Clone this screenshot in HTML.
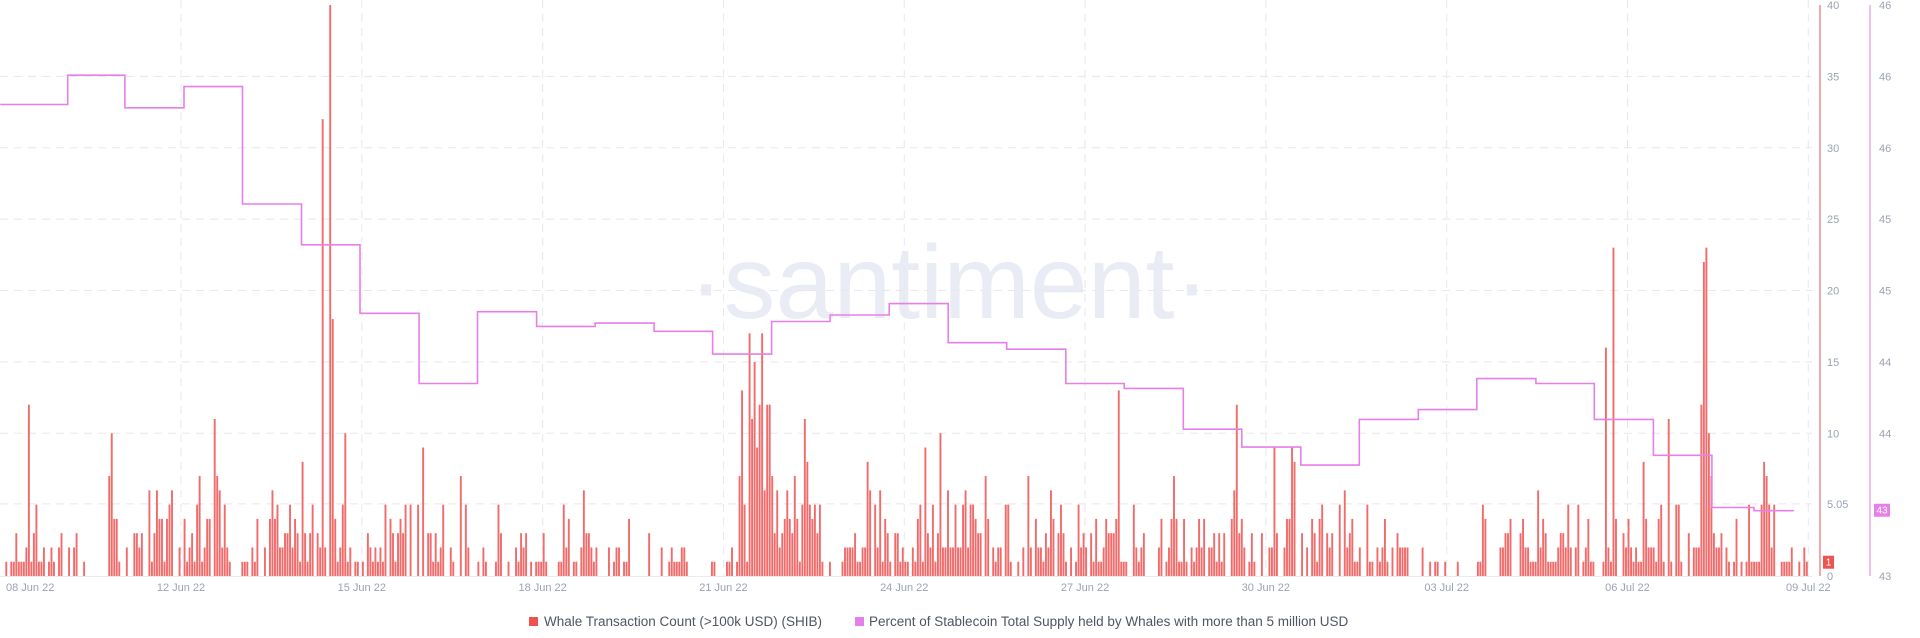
<!DOCTYPE html>
<html><head><meta charset="utf-8"><style>
html,body{margin:0;padding:0;background:#fff;width:1920px;height:638px;overflow:hidden;font-family:"Liberation Sans",sans-serif}
svg text{font-family:"Liberation Sans",sans-serif}
</style></head><body>
<svg id="chart" width="1920" height="638" viewBox="0 0 1920 638" xmlns="http://www.w3.org/2000/svg">
<text x="949" y="318" text-anchor="middle" font-size="104" fill="#e9ecf4" font-weight="300">·santiment·</text>
<g id="grid"></g>
<g id="bars"></g>
<path id="line" fill="none" stroke="#e77fe8" stroke-width="1.6"/>
<g id="axes"></g>
<g>
<rect x="529" y="617" width="9" height="9" fill="#ef5350"/>
<text x="544" y="626" font-size="13.5" fill="#4f5565">Whale Transaction Count (&gt;100k USD) (SHIB)</text>
<rect x="855" y="617" width="9" height="9" fill="#e77fe8"/>
<text x="869" y="626" font-size="13.5" fill="#4f5565">Percent of Stablecoin Total Supply held by Whales with more than 5 million USD</text>
</g>
</svg>
<script>
const whaleTx=[[0,1],[2,1],[3,1],[4,3],[5,1],[6,1],[7,1],[8,2],[9,12],[10,1],[11,3],[12,5],[13,1],[14,1],[15,2],[17,1],[18,2],[19,1],[21,2],[22,3],[25,2],[27,2],[28,3],[31,1],[41,7],[42,10],[43,4],[44,4],[45,1],[48,2],[51,3],[52,3],[53,2],[54,3],[57,6],[58,1],[59,3],[60,6],[61,4],[62,4],[63,1],[64,4],[65,5],[66,6],[69,2],[71,4],[72,1],[73,2],[74,3],[75,1],[76,5],[77,7],[78,1],[79,2],[80,4],[81,4],[83,11],[84,7],[85,6],[86,2],[87,5],[88,2],[89,1],
[94,1],[95,1],[96,1],[98,2],[99,1],[100,4],[103,2],[105,4],[106,6],[107,4],[108,5],[109,2],[110,2],[111,3],[112,3],[113,5],[114,2],[115,4],[116,3],[117,1],[118,8],[119,3],[120,1],[121,3],[122,5],[124,3],[125,2],[126,32],[127,2],[129,40],[130,18],[131,4],[132,1],[133,2],[134,5],[135,10],[136,1],[137,2],[139,1],[140,1],[142,1],[144,3],[145,2],[146,1],[147,2],[148,1],[149,2],[150,1],[151,5],[153,4],[154,3],[155,1],[156,3],[157,4],[158,3],[159,5],[161,5],[164,5],[166,9],[168,3],[169,3],[170,1],[171,3],[172,1],[173,2],[174,5],[177,2],[178,1],[181,7],[183,5],[184,2],
[188,1],[190,2],[191,1],[195,1],[196,5],[197,3],[200,1],[203,2],[204,1],[205,3],[206,2],[207,3],[209,1],[211,1],[212,1],[213,1],[214,3],[215,1],[220,1],[221,1],[222,5],[223,2],[224,4],[226,1],[227,1],[229,2],[230,6],[231,3],[232,3],[233,2],[234,1],[235,2],[240,2],[242,1],[243,2],[244,2],[246,1],[247,1],[248,4],[256,3],[261,2],[264,1],[265,2],[266,1],[267,1],[268,1],[269,2],[270,2],[271,1],
[281,1],[282,1],[287,1],[288,1],[289,2],[291,1],[292,7],[293,13],[294,5],[295,1],[296,17],[297,11],[298,15],[299,9],[300,12],[301,17],[302,6],[303,12],[304,12],[305,7],[306,3],[307,6],[308,2],[309,3],[310,4],[311,6],[312,4],[313,3],[314,7],[315,4],[316,1],[317,5],[318,11],[319,8],[320,5],[321,4],[322,5],[323,3],[324,5],[325,1],[328,1],[333,1],[334,2],[335,2],[336,2],[337,2],[338,3],[339,1],[340,1],[341,2],[342,2],[343,8],[344,6],[346,5],[347,2],[348,6],[349,1],[350,4],[351,3],[352,1],[354,3],[355,3],[356,1],[357,2],[358,1],[359,1],[361,2],[362,1],[363,4],[364,5],[365,1],[366,9],
[367,3],[368,2],[369,5],[370,1],[371,3],[372,10],[373,2],[374,2],[375,6],[376,2],[377,2],[378,5],[379,2],[380,2],[381,5],[382,6],[383,2],[384,5],[385,5],[386,4],[387,3],[388,3],[390,7],[391,4],[393,2],[394,1],[395,2],[396,2],[398,5],[399,5],[400,1],[403,1],[405,2],[407,7],[408,2],[410,4],[411,2],[412,2],[413,1],[414,3],[415,2],[416,6],[417,4],[419,3],[420,5],[421,3],[422,1],[424,2],[426,1],[427,5],[428,2],[429,3],[430,2],[432,3],[433,1],[434,4],[435,1],[436,1],[437,2],[438,4],[439,3],[440,3],[441,3],[442,4],[443,13],[444,1],[445,1],[446,1],[449,5],[450,2],[451,1],[452,2],[453,3],
[459,2],[460,4],[462,1],[463,2],[464,4],[465,7],[466,4],[467,1],[468,1],[469,4],[470,1],[472,2],[473,1],[474,2],[475,4],[476,2],[477,4],[479,2],[480,2],[481,3],[482,1],[483,3],[484,1],[485,3],[488,4],[489,6],[490,12],[491,3],[492,4],[493,2],[495,1],[496,3],[497,1],[500,3],[503,2],[504,2],[505,9],[506,3],[509,2],[510,4],[511,4],[512,9],[513,8],[516,3],[518,2],[520,4],[521,3],[522,1],[523,4],[524,5],[526,3],[527,2],[528,3],[531,5],[533,6],[534,2],[535,3],[536,4],[537,1],[538,1],[539,2],[542,5],[543,1],[544,1],[546,2],[547,1],[548,2],[549,4],[550,1],[552,2],
[554,3],[555,2],[556,2],[557,2],[558,2],[564,2],[567,1],[569,1],[570,1],[573,1],[578,1],[586,1],[587,1],[588,5],[589,4],[595,2],[596,2],[597,3],[598,3],[599,4],[603,3],[604,4],[605,2],[606,2],[607,1],[608,1],[609,1],[610,6],[611,2],[612,4],[613,3],[614,1],[615,1],[616,1],[617,1],[618,2],[619,3],[620,3],[621,2],[622,5],[623,2],[625,2],[626,5],[628,1],[629,2],[630,4],[631,1],[632,1],
[636,1],[637,16],[638,2],[639,1],[640,23],[641,4],[644,3],[645,2],[646,4],[647,2],[648,1],[649,2],[650,1],[651,1],[652,8],[653,4],[654,2],[655,2],[656,2],[657,1],[658,4],[659,5],[660,1],[662,11],[663,1],[665,5],[666,5],[667,1],[670,3],[672,2],[673,2],[674,2],[675,12],[676,22],[677,23],[678,10],[679,7],[680,3],[681,2],[682,2],[683,3],[685,2],[686,1],[688,1],[689,4],[691,1],[693,1],[694,5],[695,1],[696,1],[697,1],[698,1],[699,5],[700,8],[701,7],[702,5],[703,2],[704,5],[707,1],[708,1],[709,1],[710,1],[711,2],[714,1],[716,2],[717,1]];
const stableDays=[9.0,10.12,11.07,12.05,13.02,14.0,14.97,15.95,16.92,17.9,18.87,19.85,20.82,21.8,22.77,23.75,24.73,25.7,26.68,27.65,28.63,29.6,30.58,31.55,32.53,33.5,34.48,35.45,36.43,37.4,38.1];
const stableValues=[45.79,45.97,45.77,45.90,45.18,44.93,44.51,44.08,44.52,44.43,44.45,44.40,44.26,44.46,44.50,44.57,44.33,44.29,44.08,44.05,43.80,43.69,43.58,43.86,43.92,44.11,44.08,43.86,43.64,43.32,43.30];
const stableEnd=38.76;
const leftTicks=[40,35,30,25,20,15,10,5.05,0];
const rightTickLabels=["46","46","46","45","45","44","44","","43"];
const dateTicks=[12,15,18,21,24,27,30,33,36,39];
const dateLabels=["12 Jun 22","15 Jun 22","18 Jun 22","21 Jun 22","24 Jun 22","27 Jun 22","30 Jun 22","03 Jul 22","06 Jul 22","09 Jul 22"];

const NS="http://www.w3.org/2000/svg";
const X0=181,PXDAY=60.27,BASE=576,TOP=5;
const xScale=d=>X0+(d-12)*PXDAY;
const yLeft=v=>BASE-(v/40)*(BASE-TOP);
const RMIN=42.9,RMAX=46.4;
const yRight=v=>BASE-(v-RMIN)/(RMAX-RMIN)*(BASE-TOP);
function mk(tag,attrs,parent){const e=document.createElementNS(NS,tag);for(const k in attrs)e.setAttribute(k,attrs[k]);parent.appendChild(e);return e;}

const grid=document.getElementById('grid');
leftTicks.forEach(v=>{if(v===0||v===40)return;
 const l=mk('line',{x1:0,x2:1812,y1:yLeft(v),y2:yLeft(v),stroke:'#e6e8ee','stroke-width':1,'stroke-dasharray':'8 6'},grid);
 
 });
dateTicks.forEach(d=>{const l=mk('line',{x1:xScale(d),x2:xScale(d),y1:0,y2:BASE,stroke:'#e6e8ee','stroke-width':1,'stroke-dasharray':'8 6'},grid);
 
 });

const bars=document.getElementById('bars');
whaleTx.forEach(([h,c])=>{const x=xScale(9.1+h/24);const y=yLeft(c);
 const r=mk('rect',{x:(x-0.9).toFixed(2),y:y.toFixed(2),width:1.9,height:(BASE-y).toFixed(2),fill:'#f26b6b'},bars);
 
 });

let d='';
stableDays.forEach((day,i)=>{const x=xScale(day),y=yRight(stableValues[i]);
 if(i===0)d+=`M${x.toFixed(1)},${y.toFixed(1)}`;else d+=`L${x.toFixed(1)},${yRight(stableValues[i-1]).toFixed(1)}L${x.toFixed(1)},${y.toFixed(1)}`;});
d+=`L${xScale(stableEnd).toFixed(1)},${yRight(stableValues[stableValues.length-1]).toFixed(1)}`;
document.getElementById('line').setAttribute('d',d);

const axes=document.getElementById('axes');
let e=mk('line',{x1:0,x2:1812,y1:BASE+0.5,y2:BASE+0.5,stroke:'#e8ebf1','stroke-width':1},axes);


e=mk('line',{x1:1820,x2:1820,y1:TOP,y2:BASE,stroke:'#eeaaaa','stroke-width':2},axes);


e=mk('line',{x1:1870,x2:1870,y1:TOP,y2:BASE,stroke:'#eec0ef','stroke-width':2},axes);


leftTicks.forEach((v,i)=>{
 const t=mk('text',{x:1827,y:yLeft(v)+4,'font-size':11,fill:'#9aa2b4'},axes);t.textContent=String(v);
 
 
 const t2=mk('text',{x:1879,y:yLeft(v)+4,'font-size':11,fill:'#9aa2b4'},axes);t2.textContent=rightTickLabels[i];
 
 });
dateTicks.forEach((dd,i)=>{const t=mk('text',{x:xScale(dd),y:591,'font-size':11,fill:'#9aa2b4','text-anchor':'middle'},axes);t.textContent=dateLabels[i];
 
 });
let t=mk('text',{x:6,y:591,'font-size':11,fill:'#9aa2b4'},axes);t.textContent='08 Jun 22';


// last value badges
const lastCount=whaleTx[whaleTx.length-1][1];
e=mk('rect',{x:1823,y:yLeft(lastCount)-6,width:11,height:13,fill:'#ef5350'},axes);


t=mk('text',{x:1828.5,y:yLeft(lastCount)+4,'font-size':10,fill:'#fff','text-anchor':'middle'},axes);t.textContent=String(lastCount);


const lastVal=stableValues[stableValues.length-1];
e=mk('rect',{x:1874,y:yRight(lastVal)-7,width:16,height:13,fill:'#e77fe8'},axes);


t=mk('text',{x:1882,y:yRight(lastVal)+3,'font-size':10,fill:'#fff','text-anchor':'middle'},axes);t.textContent=String(Math.round(lastVal));


</script>
</body></html>
